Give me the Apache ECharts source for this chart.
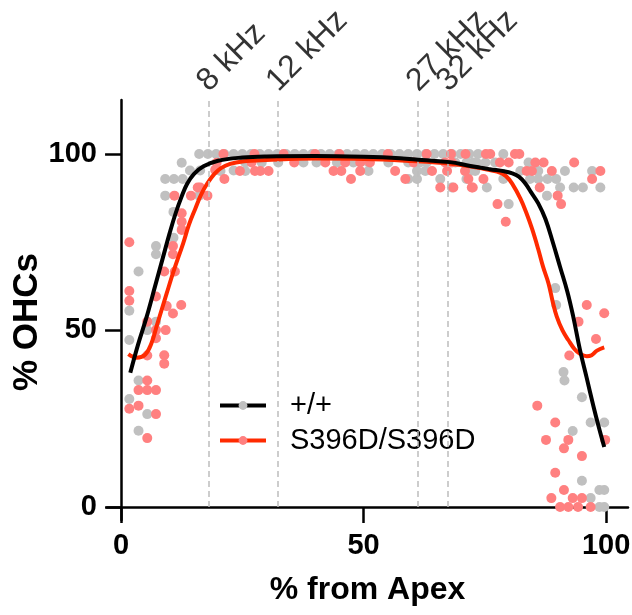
<!DOCTYPE html>
<html><head><meta charset="utf-8">
<script src="https://cdn.jsdelivr.net/npm/echarts@6/dist/echarts.min.js"></script>
<style>html,body{margin:0;padding:0;background:#fff}#c{width:632px;height:615px}</style>
</head><body><div id="c"></div>
<script>
const FONT = '"Liberation Sans", Arial, Helvetica, sans-serif';
const xTicks = [0, 50, 100];
const yTicks = [0, 50, 100];
const xTitle = '% from Apex';
const yTitle = '% OHCs';
const freqLabels = ['8 kHz', '12 kHz', '27 kHz', '32 kHz'];
const freqPositions = [18.0, 32.3, 61.2, 67.4];
const wtName = '+/+';
const mutName = 'S396D/S396D';

const wtPoints = [
[1.7,55.6],[1.7,47.3],[1.7,30.6],[3.6,66.7],[3.6,35.8],[3.6,21.6],[5.4,50.1],[5.4,26.3],[7.2,52.5],[7.2,73.9],[7.2,71.6],[9.1,92.9],[9.1,88.2],[10.8,76.3],[10.8,83.6],[10.9,92.9],[12.7,92.9],[12.5,97.5],[14.2,95.3],[16.1,88.2],[16.1,100],[16.3,95.3],
[17.9,100],[19.6,100],[21.3,100],[23.2,100],[25.0,100],[26.8,100],[28.6,100],[30.4,100],[32.2,100],[34.0,100],[35.8,100],[37.6,100],[39.4,100],[41.2,100],[43.0,100],[44.8,100],[46.6,100],[48.4,100],[50.2,100],[52.0,100],[53.8,100],[55.6,100],[57.4,100],[59.2,100],[61.0,100],[62.8,100],[64.6,100],[66.4,100],[68.2,100],[70.0,100],[71.8,100],[73.6,100],[78.8,100],
[23.2,95.3],[25.6,97.6],[29.0,97.6],[32.4,97.6],[37.6,97.6],[40.3,97.6],[44.5,97.6],[47.9,97.6],[51.0,97.6],[55.1,97.6],[59.2,97.6],[61.6,97.6],[63.0,97.6],[68.9,97.6],[71.2,97.6],[72.6,97.6],[73.3,97.6],[75.1,97.6],[77.1,97.6],[84.0,97.6],
[20.5,95.2],[25.6,95.2],[51.0,95.2],[61.0,95.2],[62.7,95.2],[73.0,95.2],[72.0,95.2],[82.3,95.2],[86.0,95.2],[91.5,95.2],[97.1,95.2],
[59.2,92.9],[61.0,92.9],[65.8,92.9],[71.2,92.9],[78.8,92.9],[84.3,92.9],[86.0,92.9],[87.9,92.9],[89.7,92.9],
[68.2,90.5],[75.4,90.5],[90.5,90.5],[93.3,90.5],[95.2,90.5],[98.8,90.5],
[87.8,88.2],[79.9,85.8],
[89.5,62.0],[89.7,57.2],[91.2,38.2],[91.4,35.8],[95.0,31.1],[96.8,23.9],[99.6,23.9],[93.1,21.5],[95.0,7.4],[98.6,4.8],[99.6,4.8],[96.8,2.5],[98.6,0],[99.6,0]
];

const mutPoints = [
[1.7,75.0],[1.7,61.2],[1.7,58.4],[1.7,27.8],[3.6,28.7],[3.6,33.1],[5.4,33.1],[7.2,33.1],[5.4,35.8],[7.2,26.3],[5.4,19.5],[5.4,42.9],[7.2,59.6],[5.4,52.5],[7.2,50.1],[9.2,50.1],[7.2,47.8],[8.9,43.0],[8.9,40.6],[9.4,56.9],[10.7,54.8],[12.4,57.2],[8.9,66.7],[11.1,66.7],[10.7,73.9],[10.7,71.6],[12.5,83.2],[12.5,80.8],[12.5,78.5],[11.0,88.2],[14.4,88.2],[17.8,88.2],[15.8,90.5],[16.3,90.5],[19.4,95.5],[21.3,92.9],[21.1,100],[19.7,97.5],
[24.5,95.2],[26.9,97.6],[27.6,95.2],[28.7,95.2],[30.4,95.2],[35.7,97.6],[42.1,97.6],[43.8,95.2],[45.4,95.2],[46.2,97.6],[47.4,92.9],[49.3,97.6],[49.3,95.2],[51.3,97.6],[56.5,95.2],[58.6,92.9],[60.3,97.6],[64.1,95.2],[65.8,90.5],[66.8,97.6],[67.2,95.2],[68.2,97.6],[68.5,90.5],[70.9,95.2],[72.3,90.5],[71.6,92.9],
[27.5,100],[33.5,100],[40.0,100],[45.0,100],[55.0,100],[63.0,100],[68.0,100],[71.0,100],[75.2,100],[76.1,100],[81.2,100],[82.1,100],
[78.1,97.6],[79.9,97.6],[85.4,97.6],[87.1,97.6],[93.4,97.6],[83.6,95.2],[84.7,95.2],[88.8,95.2],[98.8,95.2],[74.7,92.9],[97.1,92.9],[72.5,90.5],[86.3,90.5],[90.0,88.2],[77.6,85.8],[90.7,85.8],[79.3,80.8],
[96.0,57.2],[99.6,54.9],[94.3,52.5],[97.9,47.6],[92.4,42.9],[85.8,28.7],[89.5,23.9],[87.6,19.0],[92.2,19.0],[91.3,16.6],[95.0,14.4],[99.8,19.0],[89.5,9.7],[91.3,4.8],[88.7,2.5],[93.1,2.5],[95.0,2.5],[90.5,0],[92.2,0],[94.2,0],[96.8,0]
];

const wtFit = [
[1.9,38],[3.5,46],[5.3,54],[7,62.5],[8.5,70],[10,77.5],[11.2,83],[12.5,88],[13.6,91.5],[15,94.3],[17,96.5],[20,98.1],[25,99],[30,99.3],[40,99.4],[50,99.2],[57.5,98.8],[62,98.3],[67.8,97.7],[72,96.6],[76,95.7],[79,95.1],[80.5,94.6],[82,93.6],[83.3,91.7],[84.5,89.2],[86,86],[87.5,81.5],[89,75],[90.5,68],[92,61],[93.2,54],[94.6,44.5],[96,36.5],[97.4,28.4],[98.5,22.5],[99.6,17]
];

const mutFit = [
[1.5,43.3],[3.2,42.3],[5.0,43.2],[6.3,46.5],[7.4,51.5],[9.4,60.5],[11,67.5],[12.8,74.7],[14,80],[15.3,84.5],[16.5,88.5],[17.8,91.7],[19.2,94.3],[20.6,96],[22.5,97.2],[25,97.9],[30,98.3],[40,98.7],[50,98.6],[60,98],[68,97.2],[74,96],[77.5,95],[79.3,93.8],[80.8,91.2],[82.3,87.4],[83.5,83.5],[84.7,78.9],[86,73],[87,68],[88.1,63.4],[89,58],[89.8,54],[91,50],[92.2,47.3],[93.5,44.7],[94.6,43.4],[96,42.7],[97,43],[98.1,44.3],[99.6,45.2]
];

const X_MIN = -2.9, X_MAX = 104.5, Y_MIN = -3.7, Y_MAX = 115.3;

const chart = echarts.init(document.getElementById('c'), null, {renderer: 'canvas'});
const axisLineStyle = {color: '#000', width: 2.5};
chart.setOption({
  animation: false,
  backgroundColor: '#fff',
  textStyle: {fontFamily: FONT},
  grid: {left: 107, right: 4, top: 100, bottom: 95, containLabel: false, outerBoundsMode: 'none'},
  legend: {
    data: [wtName, mutName], orient: 'vertical', left: 218, top: 391, padding: 0,
    itemWidth: 46, itemHeight: 11, itemGap: 6, selectedMode: false,
    lineStyle: {width: 4},
    textStyle: {fontFamily: FONT, fontSize: 29, color: '#000', padding: [0, 0, 0, 19]}
  },
  xAxis: {
    type: 'value', min: X_MIN, max: X_MAX,
    name: xTitle, nameLocation: 'middle', nameGap: 54,
    nameTextStyle: {fontFamily: FONT, fontSize: 32, fontWeight: 'bold', color: '#000'},
    axisLine: {onZero: true, lineStyle: axisLineStyle},
    axisTick: {show: true, customValues: xTicks, length: 16, lineStyle: axisLineStyle},
    axisLabel: {customValues: xTicks, fontFamily: FONT, fontSize: 29, fontWeight: 'bold', color: '#000', margin: 11},
    splitLine: {show: false}
  },
  yAxis: {
    type: 'value', min: Y_MIN, max: Y_MAX,
    axisLine: {onZero: true, lineStyle: axisLineStyle},
    axisTick: {show: true, customValues: yTicks, length: 16, lineStyle: axisLineStyle},
    axisLabel: {customValues: yTicks, fontFamily: FONT, fontSize: 29, fontWeight: 'bold', color: '#000', margin: 10},
    splitLine: {show: false}
  },
  graphic: [{
    type: 'text', x: 27, y: 322, rotation: Math.PI / 2,
    style: {text: yTitle, font: 'bold 35px ' + FONT, fill: '#000', align: 'center', verticalAlign: 'middle'}
  }],
  series: [
    {
      name: 'freq', type: 'scatter', silent: true, symbolSize: 1,
      itemStyle: {color: 'rgba(0,0,0,0)'},
      data: freqPositions.map((x, i) => ({value: [x, Y_MAX], name: freqLabels[i]})),
      label: {
        show: true, formatter: p => p.name, position: [6, -2], rotate: 45,
        align: 'left', verticalAlign: 'bottom', fontFamily: FONT, fontSize: 32, color: '#000'
      },
      markLine: {
        silent: true, symbol: ['none', 'none'], label: {show: false},
        lineStyle: {type: [6, 4], color: '#bdbdbd', width: 1.5},
        data: freqPositions.map(x => [{coord: [x, 0]}, {coord: [x, Y_MAX]}])
      }
    },
    {name: 'wt-points', type: 'scatter', silent: true, symbolSize: 10, itemStyle: {color: '#c0c0c0', opacity: 1}, data: wtPoints, z: 3},
    {name: 'mut-points', type: 'scatter', silent: true, symbolSize: 10, itemStyle: {color: '#ff8080', opacity: 1}, data: mutPoints, z: 3},
    {name: mutName, type: 'line', silent: true, smooth: 0.4, symbol: 'circle', showSymbol: false,
     itemStyle: {color: '#ff8080'}, lineStyle: {color: '#ff2a00', width: 4}, data: mutFit, z: 4},
    {name: wtName, type: 'line', silent: true, smooth: 0.4, symbol: 'circle', showSymbol: false,
     itemStyle: {color: '#c0c0c0'}, lineStyle: {color: '#000', width: 4}, data: wtFit, z: 5}
  ]
});
</script></body></html>
